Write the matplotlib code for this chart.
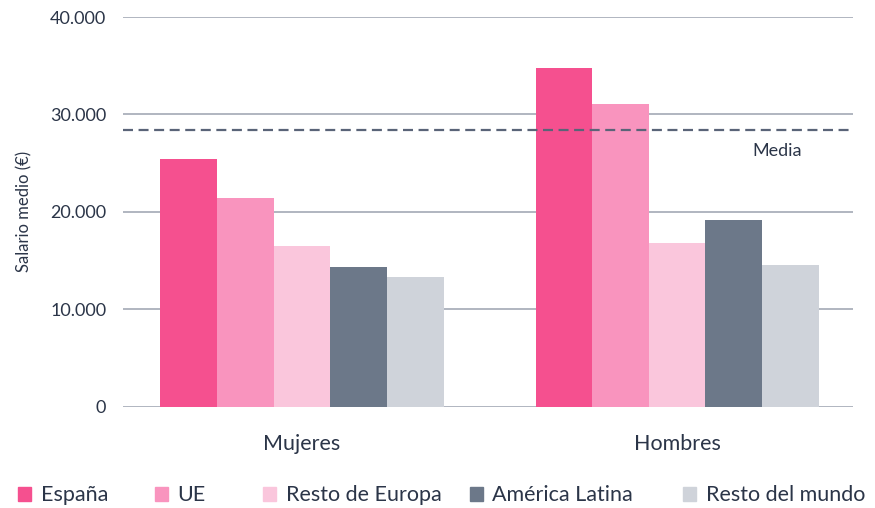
import numpy as np
import matplotlib
matplotlib.use("Agg")
import matplotlib.pyplot as plt
from matplotlib.patches import Patch
from matplotlib.ticker import FuncFormatter

# datos
grupos = ['Mujeres', 'Hombres']
series = ['España', 'UE', 'Resto de Europa', 'América Latina', 'Resto del mundo']
valores = {
    'España': [25450, 34800],
    'UE': [21400, 31100],
    'Resto de Europa': [16500, 16850],
    'América Latina': [14300, 19200],
    'Resto del mundo': [13300, 14500],
}
media = 28450
colores = ['#F5508F', '#F994BE', '#FAC6DC', '#6C7889', '#CFD3DA']
yticks = [0, 10000, 20000, 30000, 40000]

texto = '#2B3548'
plt.rcParams['font.family'] = ['Lato', 'DejaVu Sans']

fig = plt.figure(figsize=(8.75, 5.08), dpi=100)
ax = fig.add_axes([0.1406, 0.1994, 0.8344, 0.7671])

x = np.arange(len(grupos))
ancho = 0.151
for i, (s, c) in enumerate(zip(series, colores)):
    pos = x + (i - 2) * ancho
    ax.bar(pos, valores[s], width=ancho, color=c, zorder=3)

ax.axhline(media, color='#5A6478', lw=1.6, ls=(0, (4.5, 2.5)), zorder=4)
ax.text(1.2, 26250, 'Media', color=texto, fontsize=13, va='center', ha='left')

ax.set_xlim(-0.477, 1.469)
ax.set_ylim(0, 40000)
ax.set_yticks(yticks)
ax.yaxis.set_major_formatter(FuncFormatter(lambda v, p: '0' if v == 0 else f'{int(v):,}'.replace(',', '.')))
ax.set_xticks(x)
ax.set_xticklabels(grupos, fontsize=15.5, color=texto)
ax.tick_params(axis='y', length=0, pad=12, labelsize=13, labelcolor=texto)
ax.tick_params(axis='x', length=0, pad=20)
ax.grid(axis='y', color='#A3A9B5', lw=1.2, zorder=0)
for sp in ax.spines.values():
    sp.set_visible(False)
ax.set_ylabel('Salario medio (€)', fontsize=12, color=texto, labelpad=13)

# leyenda, una entrada por posicion
xs_leyenda = [0.0206, 0.177, 0.3006, 0.537, 0.7806]
for s, c, xl in zip(series, colores, xs_leyenda):
    fig.legend(handles=[Patch(color=c, label=s)], loc='center left',
               bbox_to_anchor=(xl, 0.025), frameon=False, fontsize=15.5,
               handlelength=0.6, handleheight=0.6, handletextpad=0.45,
               borderaxespad=0, borderpad=0, labelcolor=texto)

fig.savefig('out.png', dpi=100)
